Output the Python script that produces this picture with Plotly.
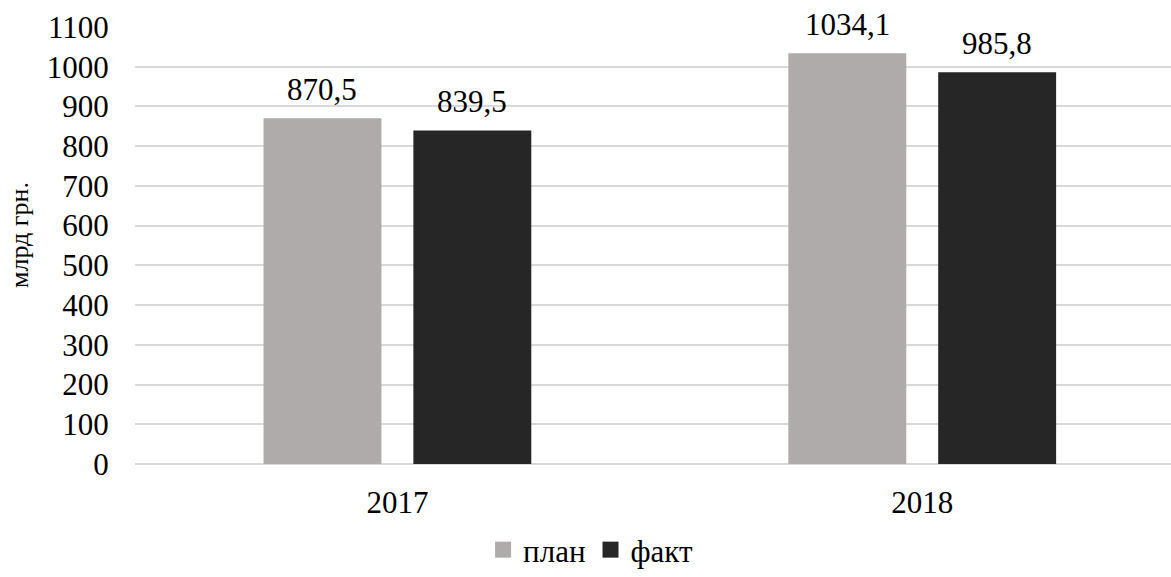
import plotly.graph_objects as go

# Budget data, bn UAH
years = ["2017", "2018"]
plan = [870.5, 1034.1]
fact = [839.5, 985.8]
series_names = ["план", "факт"]
y_ticks = [0, 100, 200, 300, 400, 500, 600, 700, 800, 900, 1000, 1100]

FONT = "Liberation Serif, Times New Roman, serif"
PLAN_COLOR = "#AEABAA"
FACT_COLOR = "#262626"
GRID = "#D9D9D9"

fig = go.Figure()

for name, vals, color in [(series_names[0], plan, PLAN_COLOR), (series_names[1], fact, FACT_COLOR)]:
    fig.add_trace(go.Bar(
        x=years, y=vals, name=name, marker_color=color,
        marker_line_width=0, showlegend=False, offsetgroup=name,
    ))

# legend entries with square markers
for name, color in [(series_names[0], PLAN_COLOR), (series_names[1], FACT_COLOR)]:
    fig.add_trace(go.Scatter(
        x=[years[0]], y=[None], mode="markers", name=name,
        marker=dict(symbol="square", size=16, color=color),
    ))

# value labels above bars
group_offset = 75
for vals, shift in [(plan, -group_offset), (fact, group_offset)]:
    for i, v in enumerate(vals):
        fig.add_annotation(
            x=i, y=v, xref="x", yref="y", xshift=shift, yshift=9,
            text=f"{v:.1f}".replace(".", ","), showarrow=False,
            yanchor="bottom", font=dict(family=FONT, size=31, color="#000"),
        )

fig.add_annotation(
    text="млрд грн.", textangle=-90, showarrow=False,
    xref="paper", yref="paper", x=-0.112, y=0.524,
    xanchor="center", yanchor="middle",
    font=dict(family=FONT, size=26, color="#000"),
)

fig.update_layout(
    width=1171, height=577,
    margin=dict(l=135, r=0, t=27, b=113, autoexpand=False),
    paper_bgcolor="white", plot_bgcolor="white",
    barmode="group", bargap=0.429, bargroupgap=0.213,
    font=dict(family=FONT, size=31, color="#000"),
    showlegend=True,
    legend=dict(
        orientation="h", x=0.336, xanchor="left",
        yref="container", y=0.0, yanchor="bottom",
        font=dict(family=FONT, size=31, color="#000"),
        itemsizing="trace",
    ),
    xaxis=dict(
        type="category", range=[-0.5, 1.474], showgrid=False, automargin=False,
        showline=False, ticks="outside", ticklen=11, tickcolor="rgba(0,0,0,0)",
        tickfont=dict(family=FONT, size=31, color="#000"),
    ),
    yaxis=dict(
        range=[0, 1100], tickvals=y_ticks, showgrid=True, gridcolor=GRID,
        gridwidth=2, zeroline=True, zerolinecolor=GRID, zerolinewidth=2,
        automargin=False,
        ticks="outside", ticklen=19, tickcolor="rgba(0,0,0,0)",
        tickfont=dict(family=FONT, size=31, color="#000"),
    ),
)

fig.write_html("out.html")
